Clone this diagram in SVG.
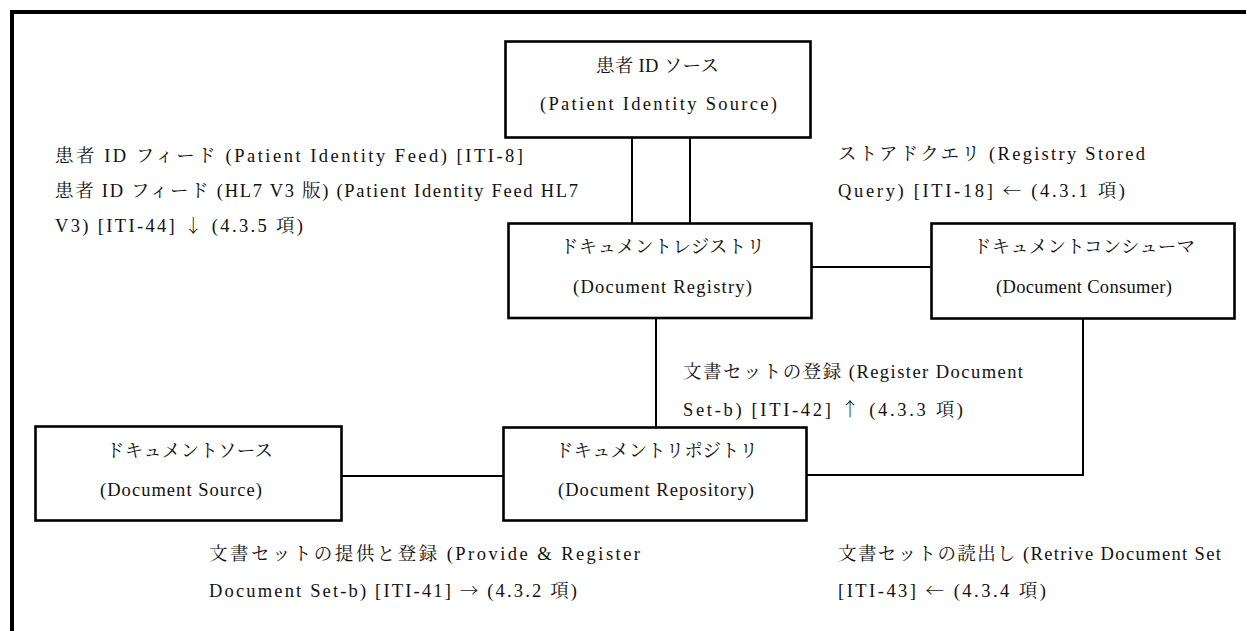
<svg xmlns="http://www.w3.org/2000/svg" width="1246" height="631" viewBox="0 0 1246 631">
<style>
text{font-family:"Liberation Serif","Noto Serif CJK JP","Noto Sans CJK JP",serif;font-size:18.5px;fill:#111;}
.ar{font-family:"Noto Serif CJK JP","Noto Sans CJK JP",serif;}
.box{fill:#fff;stroke:#000;stroke-width:2.6;}
.con{fill:none;stroke:#000;stroke-width:2;}
</style>
<rect x="0" y="0" width="1246" height="631" fill="#fff"/>
<rect x="12" y="12" width="1250" height="640" fill="none" stroke="#000" stroke-width="4"/>
<g id="connectors">
<line class="con" x1="632" y1="138" x2="632" y2="223"/>
<line class="con" x1="690" y1="138" x2="690" y2="223"/>
<line class="con" x1="812" y1="267" x2="931" y2="267"/>
<line class="con" x1="656" y1="318" x2="656" y2="427"/>
<line class="con" x1="342" y1="476" x2="503" y2="476"/>
<polyline class="con" points="1083,319 1083,475 807,475"/>
</g>
<g id="patient-identity-source">
<rect class="box" x="505.5" y="41.5" width="305" height="96"/>
<text x="596" y="71.5" textLength="123" lengthAdjust="spacing">患者 ID ソース</text>
<text x="540" y="109.5" textLength="237" lengthAdjust="spacing">(Patient Identity Source)</text>
</g>
<g id="document-registry">
<rect class="box" x="508.5" y="223.5" width="303" height="94.5"/>
<text x="560" y="252.5" textLength="205" lengthAdjust="spacing">ドキュメントレジストリ</text>
<text x="573" y="293" textLength="179" lengthAdjust="spacing">(Document Registry)</text>
</g>
<g id="document-consumer">
<rect class="box" x="931.5" y="223.5" width="303" height="95"/>
<text x="973" y="252.5" textLength="222" lengthAdjust="spacing">ドキュメントコンシューマ</text>
<text x="996" y="293" textLength="176" lengthAdjust="spacing">(Document Consumer)</text>
</g>
<g id="document-repository">
<rect class="box" x="503.5" y="427.5" width="303" height="93"/>
<text x="555" y="456.5" textLength="203" lengthAdjust="spacing">ドキュメントリポジトリ</text>
<text x="558" y="495.5" textLength="196" lengthAdjust="spacing">(Document Repository)</text>
</g>
<g id="document-source">
<rect class="box" x="35.5" y="426.5" width="306" height="94"/>
<text x="106" y="456.5" textLength="167" lengthAdjust="spacing">ドキュメントソース</text>
<text x="100" y="495.5" textLength="162" lengthAdjust="spacing">(Document Source)</text>
</g>
<g id="labels">
<text x="55" y="161.5" textLength="468" lengthAdjust="spacing">患者 ID フィード (Patient Identity Feed) [ITI-8]</text>
<text x="55" y="196.5" textLength="523" lengthAdjust="spacing">患者 ID フィード (HL7 V3 版) (Patient Identity Feed HL7</text>
<text x="55" y="231.5" textLength="248" lengthAdjust="spacing">V3) [ITI-44] <tspan class="ar">↓</tspan> (4.3.5 項)</text>
<text x="838" y="159.5" textLength="307" lengthAdjust="spacing">ストアドクエリ (Registry Stored</text>
<text x="838" y="196.5" textLength="287" lengthAdjust="spacing">Query) [ITI-18] <tspan class="ar">←</tspan> (4.3.1 項)</text>
<text x="683" y="377.5" textLength="340" lengthAdjust="spacing">文書セットの登録 (Register Document</text>
<text x="683" y="415.5" textLength="280" lengthAdjust="spacing">Set-b) [ITI-42] <tspan class="ar">↑</tspan> (4.3.3 項)</text>
<text x="209" y="559.5" textLength="431" lengthAdjust="spacing">文書セットの提供と登録 (Provide &amp; Register</text>
<text x="209" y="596.5" textLength="368" lengthAdjust="spacing">Document Set-b) [ITI-41] <tspan class="ar">→</tspan> (4.3.2 項)</text>
<text x="838" y="559.5" textLength="383" lengthAdjust="spacing">文書セットの読出し (Retrive Document Set</text>
<text x="838" y="596.5" textLength="208" lengthAdjust="spacing">[ITI-43] <tspan class="ar">←</tspan> (4.3.4 項)</text>
</g>
</svg>
